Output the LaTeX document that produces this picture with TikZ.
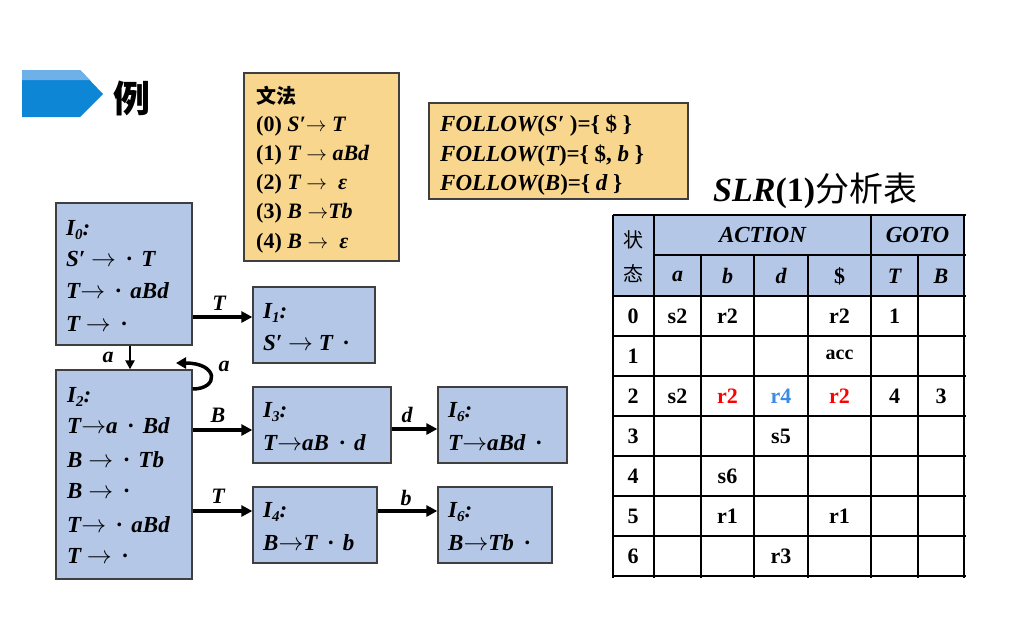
\documentclass[tikz,border=0pt]{standalone}
\usepackage{fontspec}
\setmainfont{Liberation Serif}
\newfontfamily\cjk{Noto Sans CJK SC}
\usetikzlibrary{arrows.meta}
\definecolor{boxblue}{HTML}{B4C7E7}
\definecolor{boxgold}{HTML}{F8D68E}
\definecolor{hdrblue}{HTML}{0E86D6}
\definecolor{hdrlight}{HTML}{6EB0E8}
\definecolor{edgegray}{HTML}{3F3F3F}
\definecolor{rred}{HTML}{FF0000}
\definecolor{rblue}{HTML}{3C8CE6}
\newcommand\fsz[1]{\fontsize{#1}{#1}\selectfont}
\newcommand\Isub[1]{I\raisebox{-4pt}{\fsz{15}#1}:}
\newcommand\rarr{\ensuremath{\rightarrow}}
\newcommand\dt{\hspace{0.45em}·\hspace{0.4em}}
\begin{document}
\begin{tikzpicture}[x=1pt,y=-1pt,
  sbox/.style={draw=edgegray, line width=1.3pt, fill=boxblue, inner sep=0pt},
  gbox/.style={draw=edgegray, line width=1.5pt, fill=boxgold, inner sep=0pt},
  itm/.style={anchor=base west, inner sep=0pt, font=\fsz{23}\bfseries\itshape},
  gtx/.style={anchor=base west, inner sep=0pt, font=\fsz{22}\bfseries\itshape},
  ftx/.style={anchor=base west, inner sep=0pt, font=\fsz{23}\bfseries\itshape},
  lbl/.style={inner sep=0pt, font=\fsz{22}\bfseries\itshape},
  conn/.style={line width=3.5pt, -{Triangle[length=11pt,width=11pt]}},
  tline/.style={line width=1.2pt, black},
  cell/.style={inner sep=0pt, font=\fsz{22}\bfseries},
  hcell/.style={inner sep=0pt, font=\fsz{22}\bfseries\itshape}]
\useasboundingbox (0,0) rectangle (1029,619);

% header arrow
\fill[hdrblue] (22,70) -- (80,70) -- (103,94) -- (80,117) -- (22,117) -- cycle;
\fill[hdrlight] (22,70) -- (80,70) -- (90,80) -- (22,80) -- cycle;
\node[anchor=west, inner sep=0pt] (li) at (113,98) {\cjk\bfseries\fsz{37}例};

% grammar box
\node[gbox, minimum width=155pt, minimum height=188pt] (gram) at (321.5,167) {};
\node[anchor=base west, inner sep=0pt, font=\fsz{20}\cjk\bfseries] (g0) at (256,103) {文法};
\node[gtx] (g1) at (256,131) {\upshape(0) \itshape S′\rarr{} T};
\node[gtx] (g2) at (256,160) {\upshape(1) \itshape T \rarr{} aBd};
\node[gtx] (g3) at (256,189) {\upshape(2) \itshape T \rarr{}~ ε};
\node[gtx] (g4) at (256,218) {\upshape(3) \itshape B \rarr{}Tb};
\node[gtx] (g5) at (256,248) {\upshape(4) \itshape B \rarr{}~ ε};

% follow box
\node[gbox, minimum width=259pt, minimum height=96pt] (fol) at (558.5,151) {};
\node[ftx] (f1) at (440,131) {FOLLOW\upshape(\itshape S′ \upshape)=\{ \$ \}};
\node[ftx] (f2) at (440,161) {FOLLOW\upshape(\itshape T\upshape)=\{ \$, \itshape b \upshape\}};
\node[ftx] (f3) at (440,190) {FOLLOW\upshape(\itshape B\upshape)=\{ \itshape d \upshape\}};

% state boxes
\node[sbox, minimum width=136pt, minimum height=142pt] (I0) at (124,274) {};
\node[sbox, minimum width=122pt, minimum height=76pt] (I1) at (314,325) {};
\node[sbox, minimum width=136pt, minimum height=209pt] (I2) at (124,474.5) {};
\node[sbox, minimum width=138pt, minimum height=76pt] (I3) at (322,425) {};
\node[sbox, minimum width=129pt, minimum height=76pt] (I6a) at (502.5,425) {};
\node[sbox, minimum width=124pt, minimum height=76pt] (I4) at (315,525) {};
\node[sbox, minimum width=114pt, minimum height=76pt] (I6b) at (495,525) {};

\node[itm] (i0a) at (66,235) {\Isub{0}};
\node[itm] (i0b) at (66,266) {S′ \rarr\dt T};
\node[itm] (i0c) at (66,298) {T\rarr\dt aBd};
\node[itm] (i0d) at (66,331) {T \rarr\dt};

\node[itm] (i1a) at (263,318) {\Isub{1}};
\node[itm] (i1b) at (263,350) {S′ \rarr{} T\dt};

\node[itm] (i2a) at (67,402) {\Isub{2}};
\node[itm] (i2b) at (67,433) {T\rarr{}a\dt Bd};
\node[itm] (i2c) at (67,467) {B \rarr\dt Tb};
\node[itm] (i2d) at (67,498) {B \rarr\dt};
\node[itm] (i2e) at (67,532) {T\rarr\dt aBd};
\node[itm] (i2f) at (67,563) {T \rarr\dt};

\node[itm] (i3a) at (263,417) {\Isub{3}};
\node[itm] (i3b) at (263,450) {T\rarr{}aB\dt d};
\node[itm] (i6a) at (448,417) {\Isub{6}};
\node[itm] (i6b) at (448,450) {T\rarr{}aBd\dt};
\node[itm] (i4a) at (263,517) {\Isub{4}};
\node[itm] (i4b) at (263,550) {B\rarr{}T\dt b};
\node[itm] (i6c) at (448,517) {\Isub{6}};
\node[itm] (i6d) at (448,550) {B\rarr{}Tb\dt};

% connectors
\draw[conn] (I0.east |- 0,317) -- (I1.west |- 0,317);
\draw[line width=2.5pt, -{Triangle[length=9pt,width=9pt]}] (I0.south -| 130,0) -- (I2.north -| 130,0);
\draw[line width=3.5pt, -{Triangle[length=10pt,width=11pt]}] (I2.east |- 0,389) .. controls (219,389) and (219,363) .. (176,363);
\draw[conn] (I2.east |- 0,430) -- (I3.west |- 0,430);
\draw[conn] (I2.east |- 0,511) -- (I4.west |- 0,511);
\draw[conn] (I3.east |- 0,429) -- (I6a.west |- 0,429);
\draw[conn] (I4.east |- 0,511) -- (I6b.west |- 0,511);

\node[lbl] (lT1) at (219,303) {T};
\node[lbl] (la1) at (108,357) {a};
\node[lbl] (la2) at (224,366) {a};
\node[lbl] (lB) at (218,415) {B};
\node[lbl] (lT2) at (218,496) {T};
\node[lbl] (ld) at (407,415) {d};
\node[lbl] (lb) at (406,498) {b};

% title
\node[anchor=base west, inner sep=0pt] (title) at (713,201) {\fsz{34}\bfseries\itshape SLR\upshape(1)\mdseries\cjk 分析表};

% table
\fill[boxblue] (613,215) rectangle (964,296);
\draw[tline] (613,215) -- (966,215);
\draw[tline] (654,255) -- (966,255);
\foreach \yy in {296,336,...,576} \draw[tline] (613,\yy) -- (966,\yy);
\foreach \xx in {613,654,871,964} \draw[tline] (\xx,215) -- (\xx,578);
\foreach \xx in {701,754,808,918} \draw[tline] (\xx,255) -- (\xx,578);

\node[inner sep=0pt, font=\fsz{20}\cjk] (zh1) at (633,240) {状};
\node[inner sep=0pt, font=\fsz{20}\cjk] (zh2) at (633,274) {态};
\node[hcell, font=\fsz{23}\bfseries\itshape] (hA) at (762.5,235) {ACTION};
\node[hcell, font=\fsz{23}\bfseries\itshape] (hG) at (917.5,235) {GOTO};
\node[hcell] (ha) at (677.5,276) {a};
\node[hcell] (hb) at (727.5,276) {b};
\node[hcell] (hd) at (781,276) {d};
\node[cell] (hs) at (839.5,276) {\$};
\node[hcell] (hT) at (894.5,276) {T};
\node[hcell] (hB) at (941,276) {B};

\node[cell] (s0) at (633,316) {0};
\node[cell] (s1) at (633,356) {1};
\node[cell] (s2) at (633,396) {2};
\node[cell] (s3) at (633,436) {3};
\node[cell] (s4) at (633,476) {4};
\node[cell] (s5) at (633,516) {5};
\node[cell] (s6) at (633,556) {6};

\node[cell] (c0a) at (677.5,316) {s2};
\node[cell] (c0b) at (727.5,316) {r2};
\node[cell] (c0s) at (839.5,316) {r2};
\node[cell] (c0T) at (894.5,316) {1};
\node[cell, font=\fsz{20}\bfseries] (c1s) at (839.5,355) {acc};
\node[cell] (c2a) at (677.5,396) {s2};
\node[cell, text=rred] (c2b) at (727.5,396) {r2};
\node[cell, text=rblue] (c2d) at (781,396) {r4};
\node[cell, text=rred] (c2s) at (839.5,396) {r2};
\node[cell] (c2T) at (894.5,396) {4};
\node[cell] (c2B) at (941,396) {3};
\node[cell] (c3d) at (781,436) {s5};
\node[cell] (c4b) at (727.5,476) {s6};
\node[cell] (c5b) at (727.5,516) {r1};
\node[cell] (c5s) at (839.5,516) {r1};
\node[cell] (c6d) at (781,556) {r3};
\end{tikzpicture}
\end{document}
